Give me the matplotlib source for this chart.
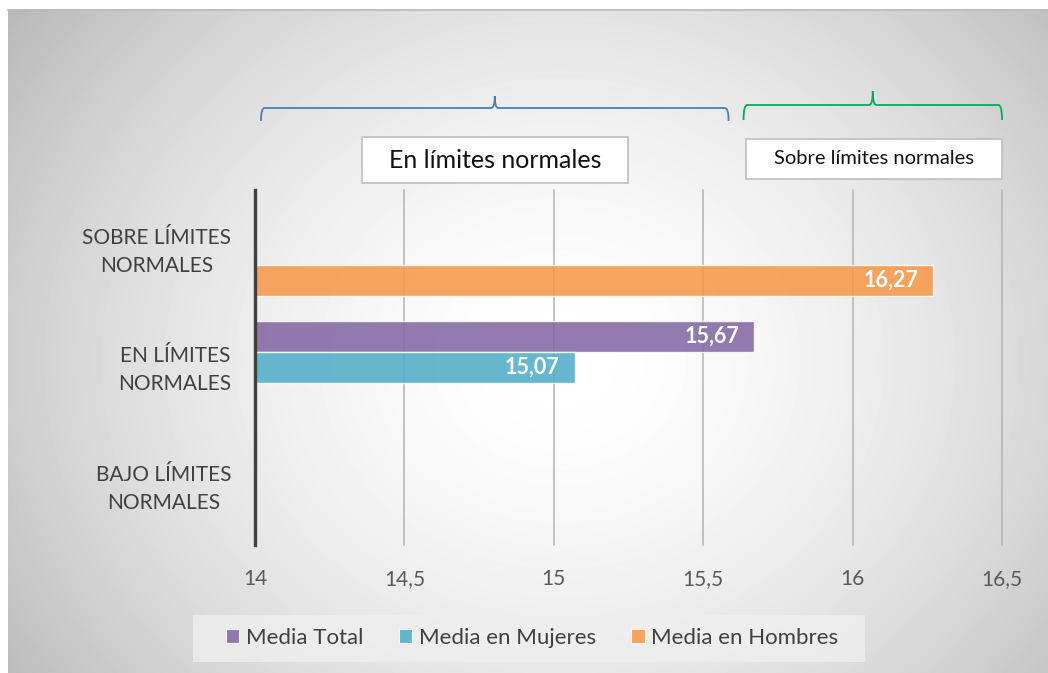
import numpy as np
import matplotlib
matplotlib.use("Agg")
import matplotlib.pyplot as plt
from matplotlib.patches import Rectangle, Patch, PathPatch
from matplotlib.path import Path
from matplotlib.transforms import blended_transform_factory, ScaledTranslation


# =========================
# DATA
# =========================
categories = [
    "BAJO LÍMITES\nNORMALES",
    "EN LÍMITES\nNORMALES",
    "SOBRE LÍMITES\nNORMALES",
]

media_total = [np.nan, 15.67, np.nan]
media_mujeres = [np.nan, 15.07, np.nan]
media_hombres = [np.nan, np.nan, 16.27]

series_names = ["Media Total", "Media en Mujeres", "Media en Hombres"]

x_ticks = [14, 14.5, 15, 15.5, 16, 16.5]
x_tick_labels = ["14", "14,5", "15", "15,5", "16", "16,5"]

# ranges marked by the braces over the plot
range_normal = (14.02, 15.585)
range_above = (15.635, 16.5)


plt.rcParams["font.family"] = ["Lato", "DejaVu Sans"]

W, H = 1048, 673
fig = plt.figure(figsize=(W / 100, H / 100), dpi=100)
fig.patch.set_facecolor("white")


def fx(px):
    return px / W


def fy(py):
    return 1 - py / H


# =========================
# BACKGROUND PANEL
# =========================
bg = fig.add_axes([fx(8), 0, 1 - fx(8), fy(9)], zorder=-5)
bg.axis("off")
gx, gy = np.meshgrid(np.arange(8, W), np.arange(9, H))
r = np.hypot(gx - 560, (gy - 360) * 1.15) / 620
shade = 255 - 60 * np.clip(r, 0, 1.2) ** 1.7
bg.imshow(shade, cmap="gray", vmin=0, vmax=255, aspect="auto",
          interpolation="bilinear")
fig.add_artist(plt.Line2D([fx(8), 1], [fy(9.5), fy(9.5)],
                          transform=fig.transFigure, color="#BBBBBB", lw=1.2))


# =========================
# BARS
# =========================
ax = fig.add_axes([fx(255), fy(545), fx(1002) - fx(255), fy(190) - fy(545)])
ax.patch.set_alpha(0)

y = np.arange(len(categories))
h = 0.263

colors = ["#8064A2", "#4BACC6", "#F79646"]
series = [media_total, media_mujeres, media_hombres]
offsets = [h, 0, -h]

for vals, col, off, name in zip(series, colors, offsets, series_names):
    bars = ax.barh(y + off, vals, height=h, color=col, alpha=0.85,
                   edgecolor="#FFFFFF", linewidth=1.0, label=name, zorder=3)
    for bar, v in zip(bars, vals):
        if np.isnan(v):
            continue
        ax.text(v - 0.05, bar.get_y() + bar.get_height() / 2,
                f"{v:.2f}".replace(".", ","),
                ha="right", va="center", color="white",
                fontsize=15.5, fontweight="bold", zorder=4)

ax.set_xlim(14, 16.5)
ax.set_ylim(-0.5, 2.5)

ax.set_xticks(x_ticks)
ax.set_xticklabels(x_tick_labels, fontsize=15, color="#595959")
ax.set_yticks(y)
ax.set_yticklabels(categories, fontsize=15, color="#404040", ma="center",
                   linespacing=1.5)
ax.tick_params(axis="both", length=0)
ax.tick_params(axis="x", pad=17)
ax.tick_params(axis="y", pad=17)

# nudge the two-line category labels up a little
shift = ScaledTranslation(0, 3 / 100, fig.dpi_scale_trans)
for lbl in ax.get_yticklabels():
    lbl.set_transform(lbl.get_transform() + shift)

ax.grid(axis="x", color="#B3B3B3", linewidth=1.1, zorder=0)
for gl in ax.get_xgridlines():
    gl.set_clip_on(False)

for side in ["top", "right", "bottom"]:
    ax.spines[side].set_visible(False)
ax.spines["left"].set_color("#404040")
ax.spines["left"].set_linewidth(2.4)
ax.spines["left"].set_zorder(5)


# =========================
# BRACES AND RANGE BOXES
# =========================
trans = blended_transform_factory(ax.transData, fig.transFigure)


def draw_brace(x0, x1, y_end, y_line, y_tip, color):
    xm = (x0 + x1) / 2
    dx = 0.012
    # left half, then the right half starting again from the tip
    verts = [
        (x0, fy(y_end)),
        (x0, fy(y_line)), (x0 + dx, fy(y_line)),
        (xm - dx, fy(y_line)),
        (xm, fy(y_line)), (xm, fy(y_tip)),
        (xm, fy(y_tip)),
        (xm, fy(y_line)), (xm + dx, fy(y_line)),
        (x1 - dx, fy(y_line)),
        (x1, fy(y_line)), (x1, fy(y_end)),
    ]
    codes = [Path.MOVETO,
             Path.CURVE3, Path.CURVE3,
             Path.LINETO,
             Path.CURVE3, Path.CURVE3,
             Path.MOVETO,
             Path.CURVE3, Path.CURVE3,
             Path.LINETO,
             Path.CURVE3, Path.CURVE3]
    fig.add_artist(PathPatch(Path(verts, codes), transform=trans,
                             facecolor="none", edgecolor=color, lw=1.3))


draw_brace(range_normal[0], range_normal[1], 121, 108, 96, "#4A7EBB")
draw_brace(range_above[0], range_above[1], 120, 105, 91, "#00B050")


def draw_box(x0, x1, top, bottom, text, size):
    fig.add_artist(Rectangle((x0, fy(bottom)), x1 - x0, fy(top) - fy(bottom),
                             transform=trans, facecolor="white",
                             edgecolor="#BFBFBF", lw=1.2))
    fig.text((x0 + x1) / 2, (fy(top) + fy(bottom)) / 2, text,
             transform=trans, ha="center", va="center",
             fontsize=size, color="#111111")


draw_box(14.358, 15.248, 137, 183, "En límites normales", 18)
draw_box(15.642, 16.5, 139, 179, "Sobre límites normales", 14.5)


# =========================
# LEGEND
# =========================
fig.add_artist(Rectangle((fx(193), fy(662)), fx(865) - fx(193),
                         fy(615) - fy(662), transform=fig.transFigure,
                         facecolor="#EFEFEF", edgecolor="none", alpha=0.8))

handles = [Patch(facecolor=c, edgecolor="white", alpha=0.85, lw=0.8)
           for c in colors]
fig.legend(handles, series_names, loc="center",
           bbox_to_anchor=(fx(532), fy(638)), ncol=3, frameon=False,
           fontsize=16, labelcolor="#404040",
           handlelength=0.6, handleheight=0.6,
           handletextpad=0.3, columnspacing=1.6)

fig.savefig("out.png", dpi=100)
plt.close(fig)
